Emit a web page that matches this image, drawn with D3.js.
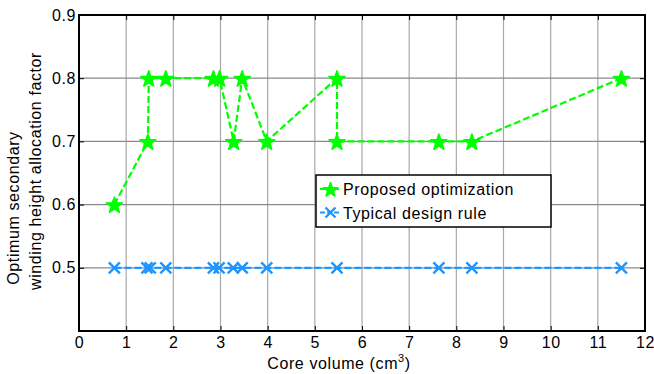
<!DOCTYPE html>
<html>
<head>
<meta charset="utf-8">
<script src="https://cdn.jsdelivr.net/npm/d3@7"></script>
<style>
  body { margin: 0; background: #fff; }
  svg { display: block; font-family: Arial, "Liberation Sans", sans-serif; }
</style>
</head>
<body>
<svg id="chart" width="654" height="374"></svg>
<script>
const proposedX = [0.75, 1.46, 1.48, 1.84, 2.85, 2.98, 3.28, 3.46, 3.98, 5.47, 5.47, 7.63, 8.33, 11.5];
const proposedY = [0.6, 0.7, 0.8, 0.8, 0.8, 0.8, 0.7, 0.8, 0.7, 0.8, 0.7, 0.7, 0.7, 0.8];
const typicalX = [0.75, 1.44, 1.51, 1.84, 2.85, 2.97, 3.27, 3.46, 3.98, 5.47, 7.63, 8.33, 11.5];
const typicalY = [0.5, 0.5, 0.5, 0.5, 0.5, 0.5, 0.5, 0.5, 0.5, 0.5, 0.5, 0.5, 0.5];
const xTicks = [0, 1, 2, 3, 4, 5, 6, 7, 8, 9, 10, 11, 12];
const yTicks = [0.4, 0.5, 0.6, 0.7, 0.8, 0.9];
const yTickLabels = ["", "0.5", "0.6", "0.7", "0.8", "0.9"];
const seriesNames = ["Proposed optimization", "Typical design rule"];
const yLabelLines = ["Optimum secondary", "winding height allocation factor"];

const svg = d3.select("#chart");
const L = 79, R = 645, T = 15, B = 331;
const x = d3.scaleLinear().domain([0, 12]).range([L, R]);
const y = d3.scaleLinear().domain([0.4, 0.9]).range([B, T]);
const green = "#00ff00", blue = "#1e95ff";
const fs = 16, ls = "0.6px";

// grid
const g = svg.append("g");
g.selectAll("line.vx").data(xTicks).enter().append("line")
  .attr("x1", d => x(d)).attr("x2", d => x(d)).attr("y1", T).attr("y2", B)
  .attr("stroke", "#a8a8a8").attr("stroke-width", 1.2);
g.selectAll("line.hy").data(yTicks).enter().append("line")
  .attr("y1", d => y(d)).attr("y2", d => y(d)).attr("x1", L).attr("x2", R)
  .attr("stroke", "#8a8a8a").attr("stroke-width", 1.2);

// axes with inner ticks
const xAxis = d3.axisBottom(x).tickValues(xTicks).tickSize(-5).tickPadding(6).tickFormat(d3.format("d"));
const yAxis = d3.axisLeft(y).tickValues(yTicks).tickSize(-5).tickPadding(3).tickFormat((d, i) => yTickLabels[i]);
const xa = svg.append("g").attr("transform", `translate(0,${B})`).call(xAxis);
const ya = svg.append("g").attr("transform", `translate(${L},0)`).call(yAxis);
const xt = svg.append("g").attr("transform", `translate(0,${T})`).call(d3.axisTop(x).tickValues(xTicks).tickSize(-5).tickFormat(""));
const yr = svg.append("g").attr("transform", `translate(${R},0)`).call(d3.axisRight(y).tickValues(yTicks).tickSize(-5).tickFormat(""));
[xa, ya, xt, yr].forEach(a => {
  a.select(".domain").remove();
  a.selectAll(".tick line").attr("stroke", "#000").attr("stroke-width", 1);
  a.selectAll("text").attr("font-size", fs).attr("fill", "#000").attr("letter-spacing", ls)
    .attr("font-family", "Arial, 'Liberation Sans', sans-serif");
});
svg.append("rect").attr("x", L).attr("y", T).attr("width", R - L).attr("height", B - T)
  .attr("fill", "none").attr("stroke", "#000").attr("stroke-width", 2);

// lines
const line = d3.line().x(d => x(d[0])).y(d => y(d[1]));
const pData = proposedX.map((v, i) => [v, proposedY[i]]);
const tData = typicalX.map((v, i) => [v, typicalY[i]]);
svg.append("path").datum(tData).attr("d", line).attr("fill", "none")
  .attr("stroke", blue).attr("stroke-width", 2.2).attr("stroke-dasharray", "7,3");
svg.append("path").datum(pData).attr("d", line).attr("fill", "none")
  .attr("stroke", green).attr("stroke-width", 2.2).attr("stroke-dasharray", "7,3");

function starPath(r) {
  const pts = [];
  for (let i = 0; i < 10; i++) {
    const a = -Math.PI / 2 + i * Math.PI / 5;
    const rr = i % 2 === 0 ? r : r * 0.4;
    pts.push([rr * Math.cos(a), rr * Math.sin(a)]);
  }
  return "M" + pts.map(p => p.join(",")).join("L") + "Z";
}
function drawStar(sel, cx, cy, r) {
  sel.append("path").attr("d", starPath(r)).attr("transform", `translate(${cx},${cy + 1})`)
    .attr("fill", green).attr("stroke", green).attr("stroke-width", 1.5).attr("stroke-linejoin", "round");
}
function drawX(sel, cx, cy, s) {
  sel.append("path").attr("d", `M${-s},${-s}L${s},${s}M${-s},${s}L${s},${-s}`)
    .attr("transform", `translate(${cx},${cy})`).attr("stroke", blue).attr("stroke-width", 2.4).attr("fill", "none");
}
const tm = svg.append("g");
tData.forEach(d => drawX(tm, x(d[0]), y(d[1]), 5.5));
const pm = svg.append("g");
pData.forEach(d => drawStar(pm, x(d[0]), y(d[1]), 8.5));

// legend
const lg = svg.append("g");
lg.append("rect").attr("x", 316).attr("y", 175).attr("width", 235).attr("height", 52)
  .attr("fill", "#fff").attr("stroke", "#000").attr("stroke-width", 1.5);
const rows = [189, 212.5];
[green, blue].forEach((c, i) => {
  lg.append("line").attr("x1", 320).attr("x2", 341).attr("y1", rows[i]).attr("y2", rows[i])
    .attr("stroke", c).attr("stroke-width", 2).attr("stroke-dasharray", "5,2");
  if (i === 0) drawStar(lg, 330.5, rows[i], 7.5); else drawX(lg, 330.5, rows[i], 5);
  lg.append("text").attr("x", 343).attr("y", rows[i] + 6.3).attr("font-size", fs)
    .attr("letter-spacing", ls).attr("fill", "#000").text(seriesNames[i]);
});

// x label
const xl = svg.append("text").attr("x", 339).attr("y", 369).attr("text-anchor", "middle")
  .attr("font-size", fs).attr("letter-spacing", ls).attr("fill", "#000");
xl.append("tspan").text("Core volume (cm");
xl.append("tspan").attr("font-size", 11).attr("dy", -7).text("3");
xl.append("tspan").attr("dy", 7).text(")");

// y label
[[18.5, 208], [40.5, 171]].forEach((p, i) => {
  svg.append("text").attr("transform", `translate(${p[0]},${p[1]}) rotate(-90)`)
    .attr("text-anchor", "middle").attr("font-size", fs).attr("letter-spacing", ls)
    .attr("fill", "#000").text(yLabelLines[i]);
});
</script>
</body>
</html>
